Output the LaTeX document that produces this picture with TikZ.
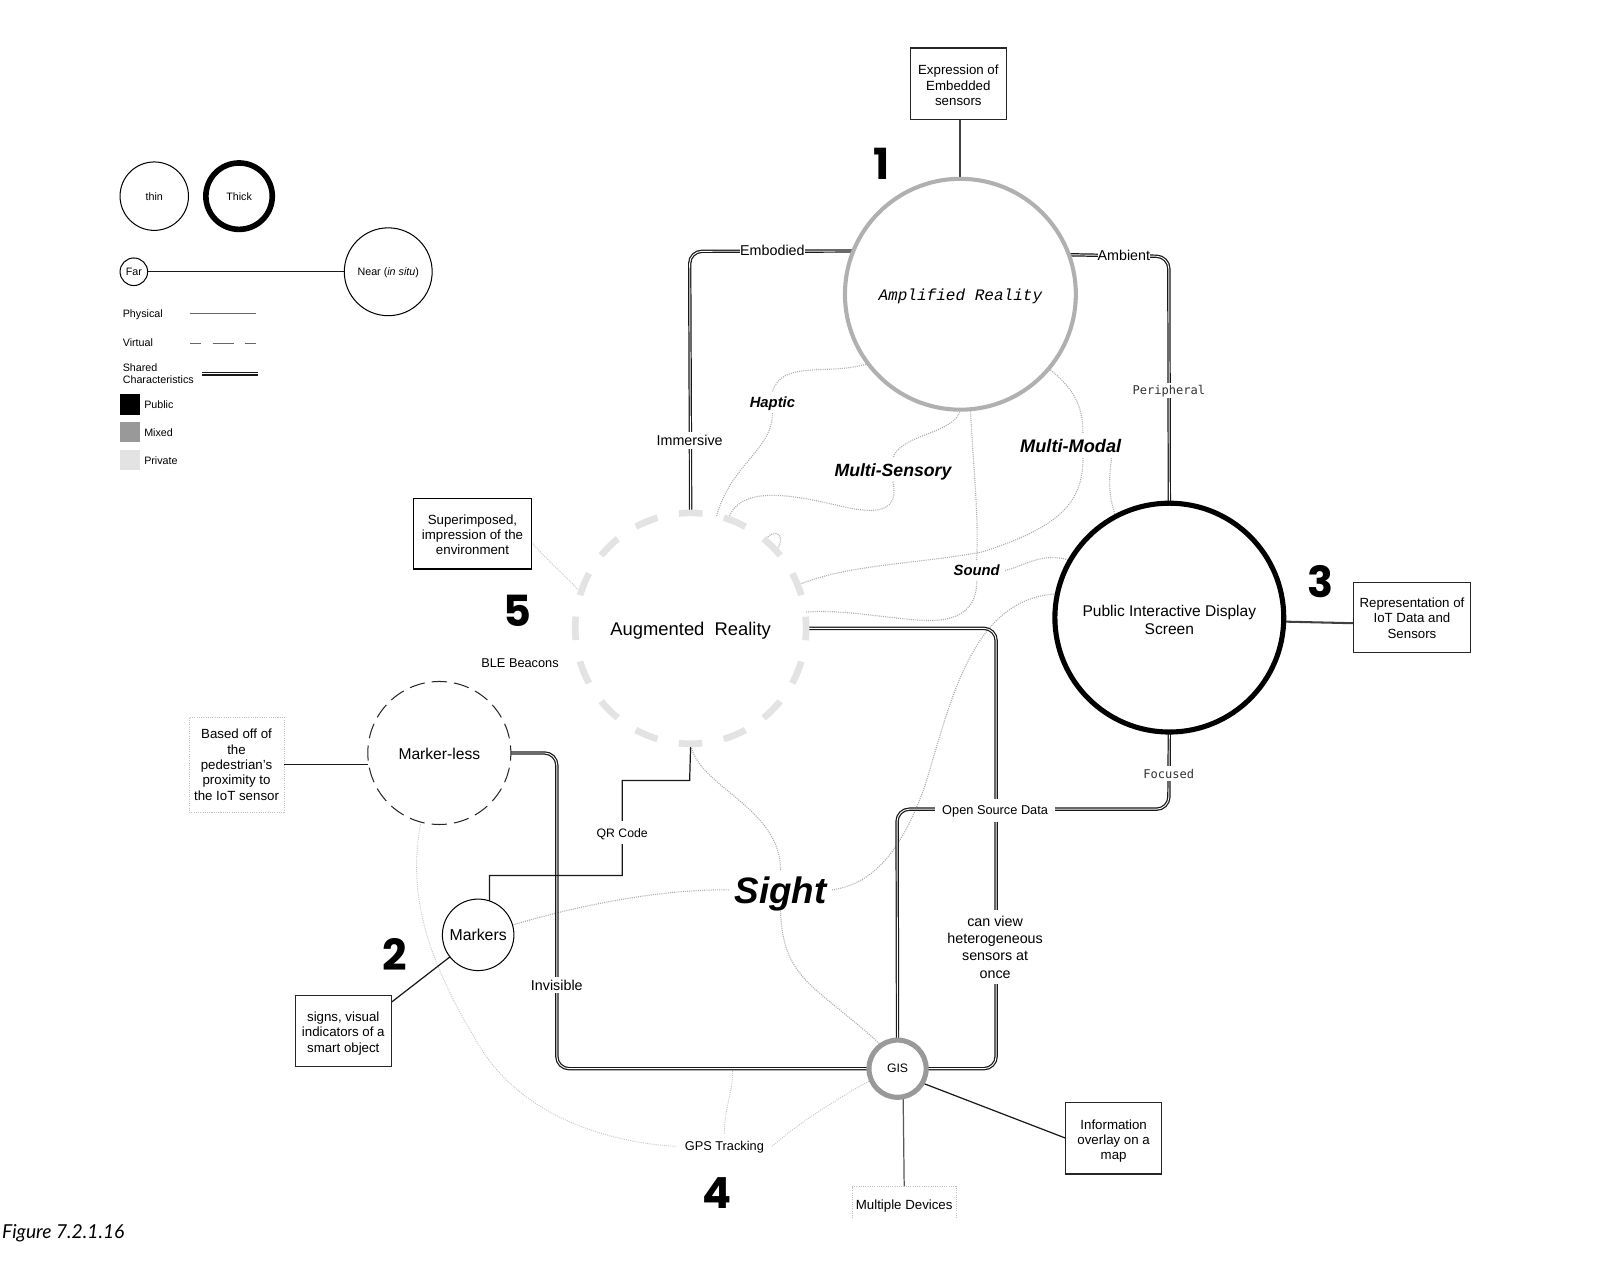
\documentclass[tikz,border=0pt]{standalone}
\usepackage{fontspec}
\setmainfont{Liberation Sans}
\newfontfamily\monof{DejaVu Sans Mono}
\newfontfamily\courf{Liberation Mono}
\newfontfamily\numf{Poppins}
\newfontfamily\capf{Lato}
\usetikzlibrary{backgrounds}
\newcommand{\fsz}[2]{\fontsize{#1}{#2}\selectfont}
\newcommand{\tp}[1]{\rule{0pt}{#1pt}}
\tikzset{
  every node/.style={text depth=0pt},
  ring/.style={circle,draw=black,fill=white,inner sep=0pt,outer sep=0pt,align=center,line width=1pt},
  boxn/.style={rectangle,draw=#1,fill=white,inner sep=0pt,outer sep=0pt,align=center,line width=1.2pt,font=\fsz{13}{15}},
  boxn/.default={black!85},
  dotbox/.style={rectangle,draw=black!25,dash pattern=on 1pt off 1.2pt,line width=.8pt,fill=white,inner sep=0pt,outer sep=0pt,align=center,font=\fsz{13}{15}},
  lab/.style={fill=white,inner sep=1.5pt,align=center,font=\fsz{14}{17}},
  labs/.style={fill=white,inner sep=2pt,align=center,font=\fsz{12.5}{15}},
  labm/.style={fill=white,inner sep=1.5pt,align=center,text=black!80,font=\monof\fsz{11.8}{14}},
  sense/.style={fill=white,inner sep=5pt,align=center,font=\bfseries\itshape\fsz{#1}{#1}},
  legt/.style={anchor=west,inner sep=0pt,align=left,font=\fsz{10.5}{12}},
  bignum/.style={inner sep=0pt,font=\numf\bfseries\fsz{42}{42}},
  dbl/.style={draw=black!90,line width=1.2pt,double=white,double distance=.9pt,rounded corners=12pt},
  solid1/.style={draw=black!90,line width=1.2pt},
  solid2/.style={draw=black!75,line width=2pt},
  dots/.style={draw=black!32,line width=1.1pt,dash pattern=on 1pt off 1.1pt},
  dotsl/.style={draw=black!24,line width=.9pt,dash pattern=on .9pt off 1.2pt},
}
\begin{document}
\begin{tikzpicture}[x=1pt,y=-1pt]
\useasboundingbox (0,0) rectangle (1568,1247);
% legend
\node[ring,minimum size=67pt,font=\fsz{10.5}{12}] (thin) at (151,192) {thin};
\node[ring,minimum size=65pt,line width=5.5pt,font=\fsz{10.5}{12}] (thick) at (234,192) {Thick};
\node[ring,minimum size=27pt,font=\fsz{10.5}{12}] (far) at (131,266) {Far};
\node[ring,minimum size=86pt,font=\fsz{10.5}{12}] (near) at (380,266) {Near (\textit{in situ})};
\node[legt] (lphys) at (120,307) {Physical};
\coordinate (pa) at (186,307); \coordinate (pb) at (251,307);
\node[legt] (lvirt) at (120,335) {Virtual};
\coordinate (va) at (186,336); \coordinate (vb) at (251,336);
\node[legt] (lshar) at (120,366) {Shared\\Characteristics};
\coordinate (sa) at (198,366); \coordinate (sb) at (253,366);
\node[fill=black,minimum size=20pt,inner sep=0pt] (kpub) at (127,396) {};
\node[fill=black!40,minimum size=20pt,inner sep=0pt] (kmix) at (127,423) {};
\node[fill=black!11,minimum size=20pt,inner sep=0pt] (kpri) at (127,450) {};
\node[legt] (tpub) at (141,396.5) {Public};
\node[legt] (tmix) at (141,423.5) {Mixed};
\node[legt] (tpri) at (141,450.5) {Private};
% main circles
\node[ring,draw=black!31,line width=4pt,minimum size=226pt,font=\courf\itshape\fsz{15.7}{18}] (amp) at (940,288) {Amplified Reality};
\node[ring,line width=5pt,minimum size=224pt,font=\fsz{15.2}{18}] (pub) at (1144.5,604.5) {\tp{16}Public Interactive Display\\Screen};
\node[ring,draw=black!11,line width=6.5pt,minimum size=226pt,dash pattern=on 23pt off 21.37pt,dash phase=11.5pt,font=\fsz{18}{20}] (ar) at (676,615) {Augmented\ \ Reality};
\node[ring,draw=black!85,minimum size=140pt,dash pattern=on 15pt off 6.99pt,dash phase=7.5pt,font=\fsz{15.3}{18}] (mless) at (430,737) {\tp{13}Marker-less};
\node[ring,minimum size=70pt,font=\fsz{15.5}{18}] (markers) at (468,915) {Markers};
\node[ring,draw=black!40,line width=5pt,minimum size=56pt,font=\fsz{12}{14}] (gis) at (878.5,1046) {GIS};
% boxes
\node[boxn,minimum width=94pt,minimum height=70pt] (bexp) at (938,82) {\tp{12.4}Expression of\\Embedded\\sensors};
\node[boxn,minimum width=114pt,minimum height=69pt] (brep) at (1382,604.5) {\tp{10.4}Representation of\\IoT Data and\\Sensors};
\node[boxn=black,minimum width=115pt,minimum height=69pt] (bsup) at (462.5,522.5) {\tp{11.4}Superimposed,\\impression of the\\environment};
\node[dotbox,minimum width=93pt,minimum height=93pt] (bbas) at (231.5,748.5) {Based off of\\the\\pedestrian's\\proximity to\\the IoT sensor};
\node[boxn,minimum width=94pt,minimum height=70pt] (bsig) at (336,1009) {\tp{11.4}signs, visual\\indicators of a\\smart object};
\node[boxn,minimum width=94pt,minimum height=70pt] (binf) at (1090,1114) {\tp{12.4}Information\\overlay on a\\map};
\node[fill=white,inner sep=0pt,outer sep=0pt,minimum width=102pt,minimum height=31pt,font=\fsz{13}{15}] (bmul) at (885,1177) {\tp{13}Multiple Devices};
% sense labels
\node[sense=36] (sight) at (764,871) {Sight};
\node[sense=17.8] (mmodal) at (1048,436.5) {Multi-Modal};
\node[sense=17.3] (msens) at (874,460) {Multi-Sensory};
\node[sense=14.5] (haptic) at (756,394) {Haptic};
\node[sense=14.5] (sound) at (956,558.5) {Sound};
% edge labels
\node[lab,inner sep=0pt] (lemb) at (756,245) {Embodied};
\node[lab,inner sep=0pt] (lamb) at (1100,250) {Ambient};
\node[lab,inner sep=3pt] (limm) at (675,431) {Immersive};
\node[labm,inner sep=3pt] (lper) at (1144,382) {Peripheral};
\node[labm,inner sep=3pt] (lfoc) at (1144,757) {Focused};
\node[labs,inner xsep=7pt,inner ysep=7pt] (lopen) at (974,793) {Open Source Data};
\node[lab,inner sep=3pt,inner ysep=6pt] (lview) at (974,927) {can view\\heterogeneous\\sensors at\\once};
\node[lab,inner sep=3pt] (linv) at (545,964) {Invisible};
\node[labs,font=\fsz{12}{14},inner sep=7pt] (lqr) at (609,815) {QR Code};
\node[labs,inner sep=8pt] (lgps) at (709,1122) {GPS Tracking};
\node[labs,inner sep=0pt] (lble) at (509,649.5) {BLE Beacons};
% numbers
\node[bignum] (n1) at (863,160) {1};
\node[bignum] (n2) at (386,934) {2};
\node[bignum] (n3) at (1292,569) {3};
\node[bignum] (n4) at (702,1168) {4};
\node[bignum] (n5) at (506,598) {5};
\node[anchor=west,inner sep=0pt,font=\capf\itshape\fsz{18.8}{20}] (cap) at (2,1205) {Figure 7.2.1.16};
% connector waypoints
\coordinate (mmt) at ([xshift=12pt]mmodal.north);
\coordinate (mmb) at ([xshift=12pt]mmodal.south);
\coordinate (mmc) at ([xshift=40pt]mmodal.south);
\coordinate (loopa) at (750,527);
\coordinate (loopb) at (761,537);
\coordinate (gpsend) at (717,1048);
\begin{pgfonlayer}{background}
\fill[white] (0,0) rectangle (1568,1247);
% legend lines
\draw[solid1,line width=1pt] (far) -- (near);
\draw[solid1,draw=black!60,line width=1.2pt] (pa) -- (pb);
\draw[solid1,draw=black!60,line width=1.2pt,dash pattern=on 11pt off 11pt on 21pt off 11pt on 11pt off 0pt] (va) -- (vb);
\draw[dbl] (sa) -- (sb);
% dotted relations
\draw[dots] (amp.217) .. controls (810,368) and (765,352) .. (haptic.north);
\draw[dots] (haptic.south) .. controls (756,440) and (715,455) .. (ar.77);
\draw[dots] (amp.270) .. controls (935,425) and (880,425) .. (msens.north);
\draw[dots] (msens.south) .. controls (880,500) and (860,503) .. (830,497) .. controls (790,488) and (725,470) .. (ar.71);
\draw[dots] (amp.-40) .. controls (1050,380) and (1060,395) .. (mmt);
\draw[dots] (mmb) .. controls (1060,490) and (1040,515) .. (962,540) .. controls (900,552) and (830,552) .. (ar.22);
\draw[dots] (amp.-85) .. controls (952,450) and (958,500) .. (sound.north);
\draw[dots] (sound.east) .. controls (1005,553) and (1020,540) .. (pub.150);
\draw[dots] (sound.south) .. controls (956,595) and (940,610) .. (900,607) .. controls (860,604) and (820,596) .. (ar.8);
\draw[dots] (mmc) .. controls (1085,470) and (1085,485) .. (pub.118);
\draw[dots] (loopa) .. controls (757,518) and (770,522) .. (loopb);
\draw[dots] (sight.east) .. controls (850,866) and (880,840) .. (905,770) .. controls (930,690) and (950,585) .. (pub.168);
\draw[dots] (ar.270) .. controls (682,770) and (765,790) .. (sight.north);
\draw[dots] (sight.south) .. controls (765,960) and (800,965) .. (gis.125);
\draw[dots] (markers.16) .. controls (570,885) and (650,870) .. (sight.west);
\draw[dotsl] (mless.255) .. controls (400,870) and (412,930) .. (470,1025) .. controls (510,1090) and (590,1118) .. (lgps.west);
\draw[dotsl] (lgps.north) .. controls (709,1085) and (718,1065) .. (gpsend);
\draw[dotsl] (lgps.east) .. controls (780,1100) and (820,1075) .. (gis.203);
\draw[dotsl] (bsup.east) ++(0,8) .. controls (535,548) and (555,565) .. (ar.162);
% double connectors
\draw[dbl] (amp.158) -- (675,246) -- (ar.90);
\draw[dbl] (amp.20) -- (1144,251) -- (pub.90);
\draw[dbl] (pub.270) -- (1144,792) -- (878,792) -- (gis.90);
\draw[dbl] (ar.0) -- (975,615) -- (975,1046) -- (gis.0);
\draw[dbl] (mless.0) -- (545,737) -- (545,1046) -- (gis.180);
% solid connectors
\draw[solid1] (ar.270) -- (675,764) -- (609,764) -- (609,857) -- (479,857) -- (479,883);
\draw[solid2] (940,117) -- (amp.90);
\draw[solid2] (pub.-2.5) -- (1325,610);
\draw[solid1] (bbas.east |- 0,748) -- (360,748);
\draw[solid1] (markers.218) -- (383,981);
\draw[solid1] (gis.-30) -- (1043,1114);
\draw[solid1,draw=black!65] (884,1075) -- (bmul.north);
\end{pgfonlayer}
\draw[draw=black!25,dash pattern=on 1pt off 1.2pt,line width=.8pt] (bmul.south west) -- (bmul.north west) -- (bmul.north east) -- (bmul.south east);
\end{tikzpicture}
\end{document}
